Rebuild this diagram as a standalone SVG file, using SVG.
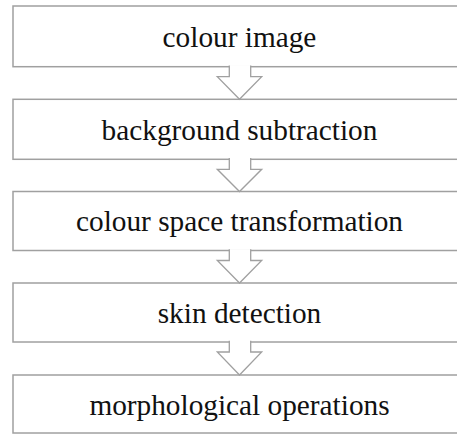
<svg xmlns="http://www.w3.org/2000/svg" width="457" height="434" viewBox="0 0 457 434">
<style>
.box{fill:#ffffff;stroke:#a0a0a0;stroke-width:1.5}
.arr{fill:#ffffff;stroke:#a0a0a0;stroke-width:1.3;stroke-linejoin:miter}
.lbl{font-family:"Liberation Serif","Times New Roman",Times,serif;font-size:29.3px;fill:#111;text-anchor:middle}
</style>
<rect width="457" height="434" fill="#ffffff"/>
<g id="n1"><rect class="box" x="13" y="6" width="450" height="60.7"/><text class="lbl" x="239.5" y="46.5">colour image</text></g>
<g id="n2"><rect class="box" x="13" y="99.3" width="450" height="60"/><text class="lbl" x="239.5" y="139.5">background subtraction</text></g>
<g id="n3"><rect class="box" x="13" y="191.5" width="450" height="59"/><text class="lbl" x="239.5" y="231">colour space transformation</text></g>
<g id="n4"><rect class="box" x="13" y="283" width="450" height="59"/><text class="lbl" x="239.5" y="322.5">skin detection</text></g>
<g id="n5"><rect class="box" x="13" y="375" width="450" height="58"/><text class="lbl" x="239.5" y="414.5">morphological operations</text></g>
<g id="connectors">
<path class="arr" d="M229.3,65.5 V76.7 H217.3 L239.5,99.3 L261.7,76.7 H250.7 V65.5"/>
<path class="arr" d="M229.3,158.1 V169.3 H217.3 L239.5,191.5 L261.7,169.3 H250.7 V158.1"/>
<path class="arr" d="M229.3,249.3 V260.5 H217.3 L239.5,283 L261.7,260.5 H250.7 V249.3"/>
<path class="arr" d="M229.3,340.8 V352 H217.3 L239.5,375 L261.7,352 H250.7 V340.8"/>
</g>
</svg>
